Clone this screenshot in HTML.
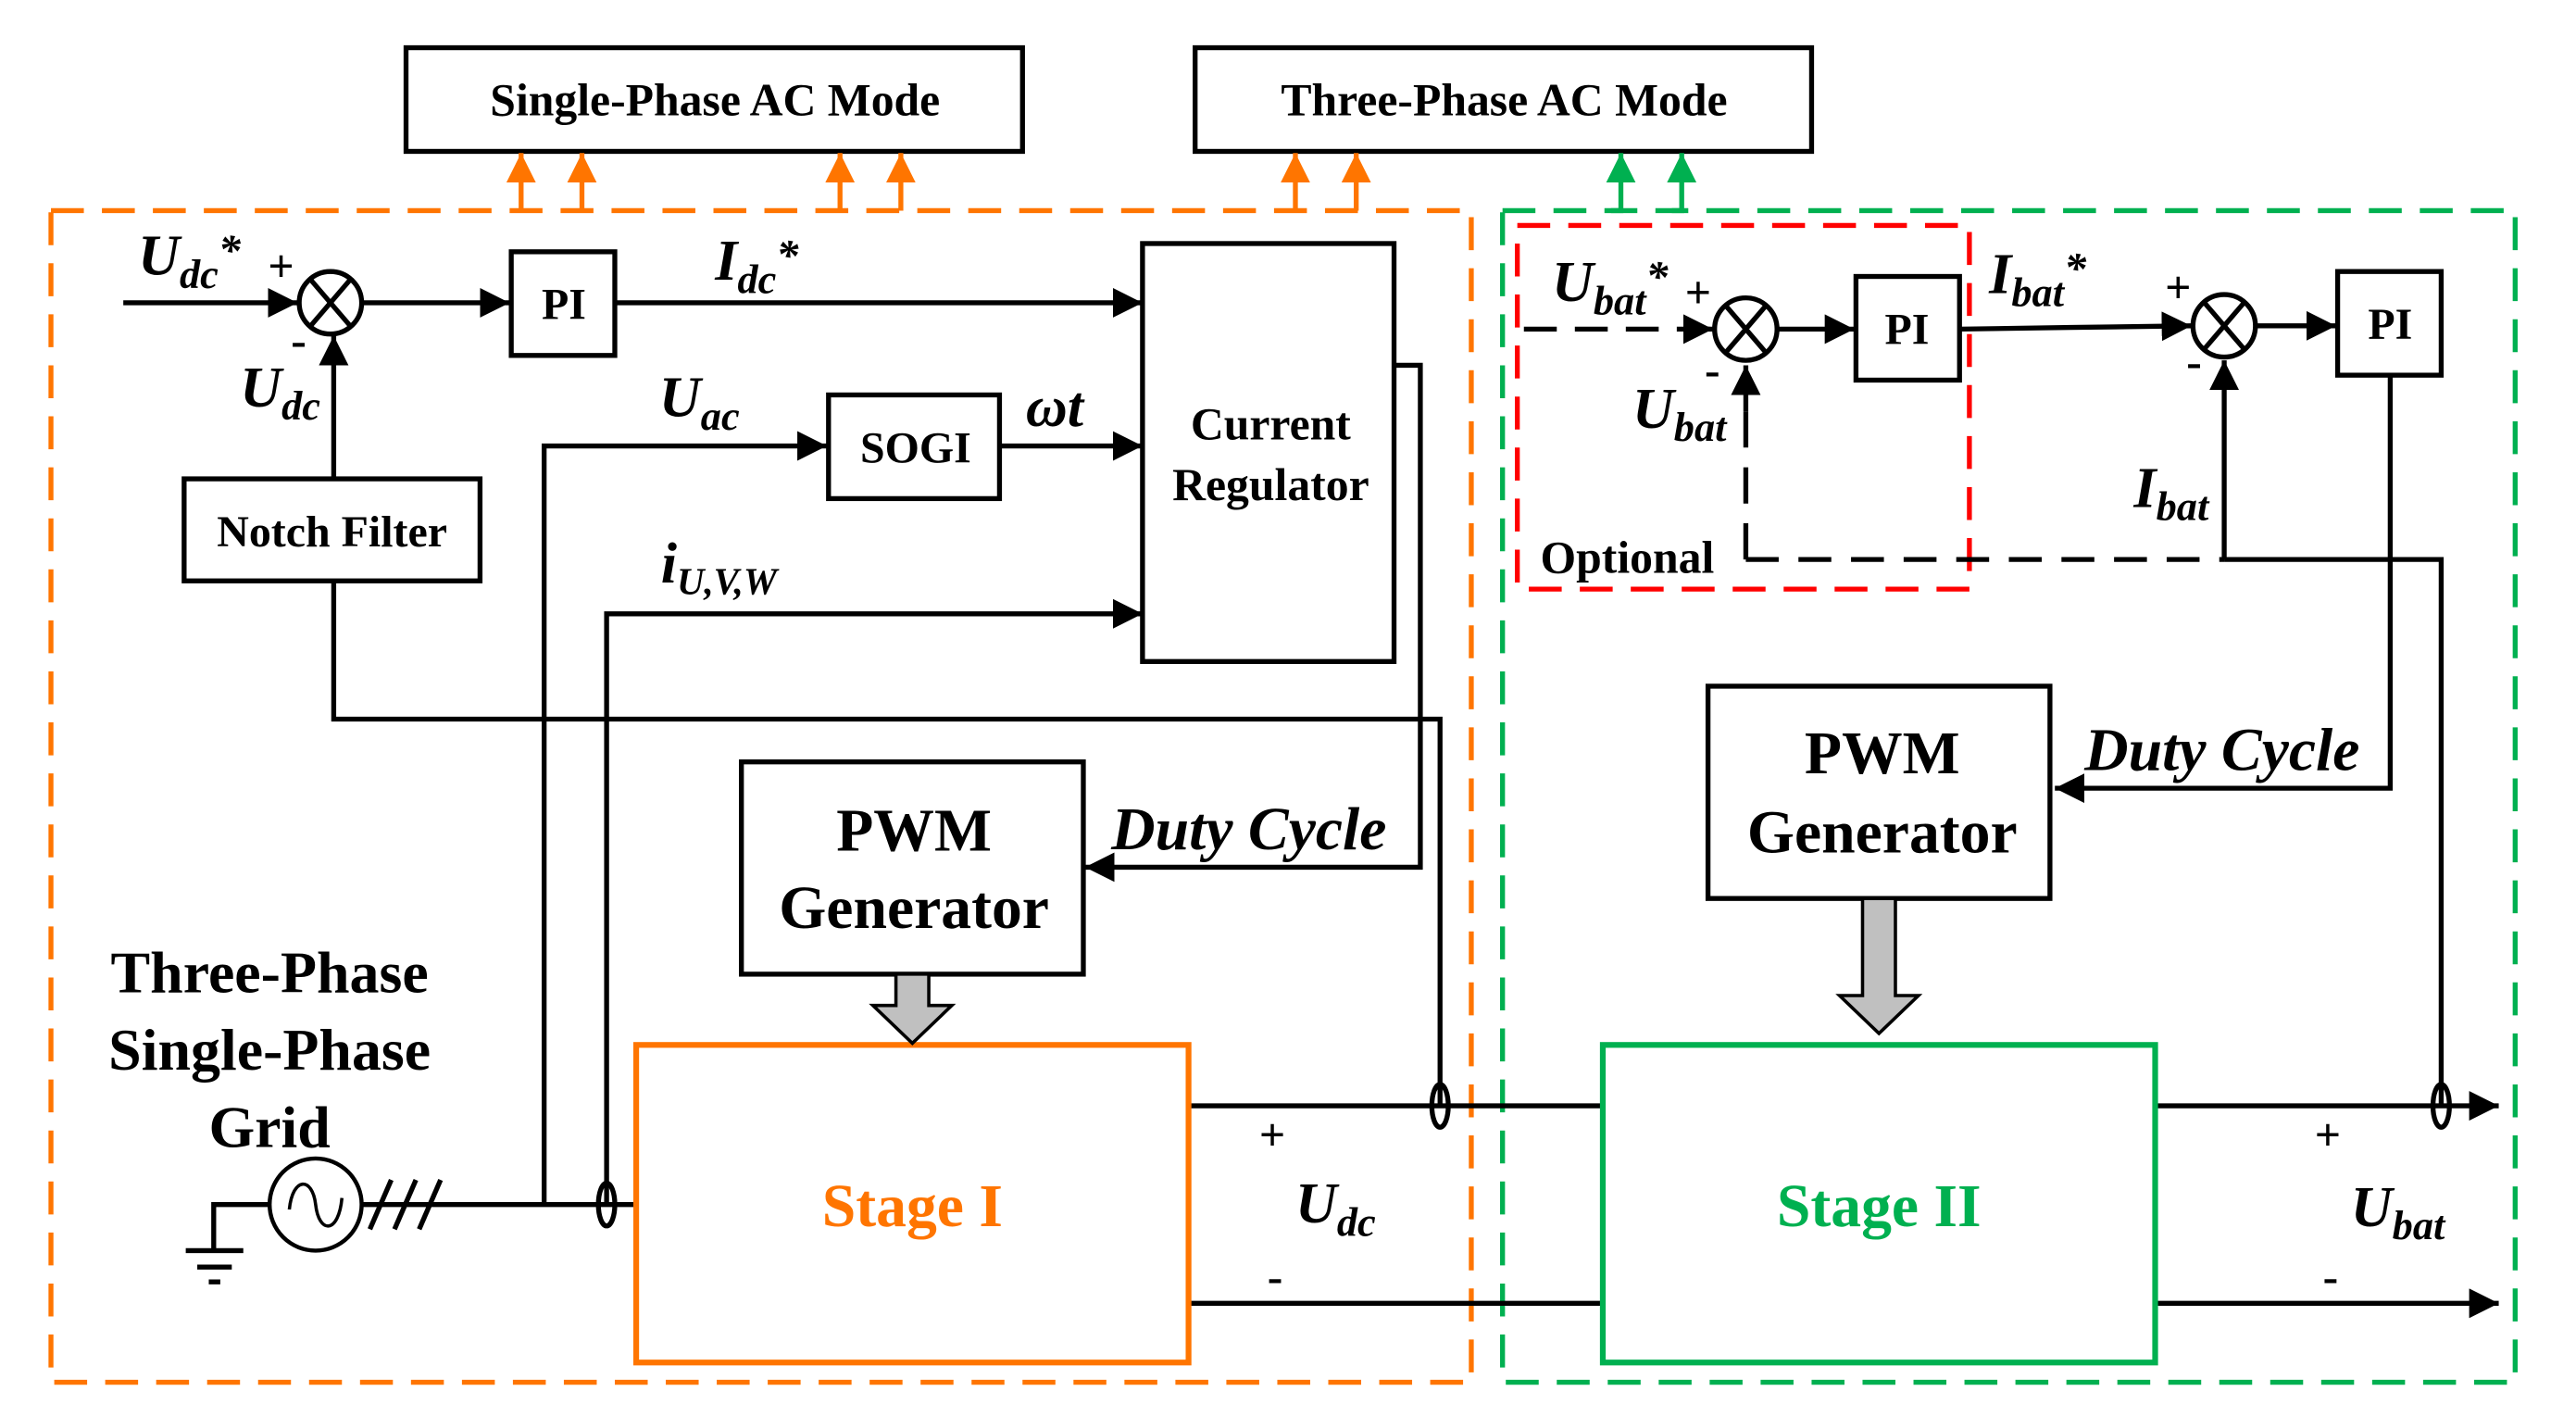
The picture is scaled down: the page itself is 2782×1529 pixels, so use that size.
<!DOCTYPE html>
<html><head><meta charset="utf-8"><style>
html,body{margin:0;padding:0;background:#fff;width:2782px;height:1529px;overflow:hidden}
svg{display:block}
svg text{font-family:'Liberation Serif','Times New Roman',serif;font-weight:bold;fill:#000}
.i{font-style:italic}
</style></head><body>
<svg width="2782" height="1529" viewBox="0 0 1567 860.5" preserveAspectRatio="none" xmlns="http://www.w3.org/2000/svg" font-family="Liberation Serif, Times New Roman, serif">
<defs>
<marker id="ab" viewBox="0 0 10 10" refX="10" refY="5" markerWidth="18" markerHeight="18" markerUnits="userSpaceOnUse" orient="auto"><path d="M0,0L10,5L0,10z" fill="#000"/></marker>
<marker id="ao" viewBox="0 0 10 10" refX="10" refY="5" markerWidth="18" markerHeight="18" markerUnits="userSpaceOnUse" orient="auto"><path d="M0,0L10,5L0,10z" fill="#ff7500"/></marker>
<marker id="ag" viewBox="0 0 10 10" refX="10" refY="5" markerWidth="18" markerHeight="18" markerUnits="userSpaceOnUse" orient="auto"><path d="M0,0L10,5L0,10z" fill="#00b050"/></marker>
</defs>
<g fill="none" stroke-width="3">
<rect x="247" y="29" width="375" height="63" stroke="#000"/>
<rect x="727" y="29" width="375" height="63" stroke="#000"/>
<rect x="31" y="128" width="864" height="712" stroke="#ff7500" stroke-dasharray="20,11"/>
<rect x="914" y="128" width="616" height="712" stroke="#00b050" stroke-dasharray="20,11"/>
<rect x="923" y="137" width="275" height="221" stroke="#ff0000" stroke-dasharray="20,11"/>
<g stroke="#ff7500"><line x1="317" y1="128" x2="317" y2="93" marker-end="url(#ao)"/><line x1="354" y1="128" x2="354" y2="93" marker-end="url(#ao)"/><line x1="511" y1="128" x2="511" y2="93" marker-end="url(#ao)"/><line x1="548" y1="128" x2="548" y2="93" marker-end="url(#ao)"/><line x1="788" y1="128" x2="788" y2="93" marker-end="url(#ao)"/><line x1="825" y1="128" x2="825" y2="93" marker-end="url(#ao)"/></g>
<g stroke="#00b050"><polyline points="980,128 986,128 986,93" marker-end="url(#ag)"/><polyline points="1017,128 1023,128 1023,93" marker-end="url(#ag)"/></g>
<g stroke="#000">
<line x1="75" y1="184" x2="181" y2="184" marker-end="url(#ab)"/>
<circle cx="201" cy="184" r="19"/>
<line x1="189" y1="170" x2="213" y2="198"/><line x1="213" y1="170" x2="189" y2="198"/>
<line x1="220" y1="184" x2="310" y2="184" marker-end="url(#ab)"/>
<rect x="311" y="153" width="63" height="63"/>
<line x1="374" y1="184" x2="695" y2="184" marker-end="url(#ab)"/>
<rect x="695" y="148" width="153" height="254"/>
<line x1="203" y1="291" x2="203" y2="204" marker-end="url(#ab)"/>
<rect x="112" y="291" width="180" height="62"/>
<polyline points="203,353 203,437 876,437 876,672"/>
<polyline points="331,732 331,271 503,271" marker-end="url(#ab)"/>
<rect x="504" y="240" width="104" height="63"/>
<line x1="608" y1="271" x2="695" y2="271" marker-end="url(#ab)"/>
<polyline points="369,732 369,373 695,373" marker-end="url(#ab)"/>
<polyline points="848,222 864,222 864,527 660,527" marker-end="url(#ab)"/>
<rect x="451" y="463" width="208" height="129"/>
<circle cx="192" cy="732" r="28" stroke-width="2.5"/>
<path d="M176,735 C178,715 190,715 192,732 C194,750 206,750 208,728" stroke-width="2"/>
<polyline points="164,732 130,732 130,760"/>
<line x1="113" y1="760" x2="148" y2="760"/><line x1="120" y1="770" x2="141" y2="770"/><line x1="127" y1="779" x2="134" y2="779"/>
<line x1="220" y1="732" x2="387" y2="732"/>
<line x1="225" y1="747" x2="238" y2="717"/><line x1="240" y1="747" x2="253" y2="717"/><line x1="255" y1="747" x2="268" y2="717"/>
<ellipse cx="369" cy="732" rx="5" ry="13"/>
<line x1="723" y1="672" x2="975" y2="672"/>
<line x1="723" y1="792" x2="975" y2="792"/>
<ellipse cx="876" cy="672" rx="5" ry="13"/>
<line x1="1311" y1="672" x2="1520" y2="672" marker-end="url(#ab)"/>
<line x1="1311" y1="792" x2="1520" y2="792" marker-end="url(#ab)"/>
<ellipse cx="1485" cy="672" rx="5" ry="13"/>
<line x1="927" y1="200" x2="1042" y2="200" stroke-dasharray="20,11" marker-end="url(#ab)"/>
<line x1="1028" y1="200" x2="1042" y2="200"/>
<circle cx="1062" cy="200" r="19"/>
<line x1="1050" y1="186" x2="1074" y2="214"/><line x1="1074" y1="186" x2="1050" y2="214"/>
<polyline points="1062,340 1062,222" stroke-dasharray="22,12" marker-end="url(#ab)"/>
<line x1="1062" y1="235" x2="1062" y2="250"/>
<line x1="1081" y1="200" x2="1128" y2="200" marker-end="url(#ab)"/>
<rect x="1129" y="168" width="63" height="63"/>
<polyline points="1192,200 1260,199 1333,198" marker-end="url(#ab)"/>
<circle cx="1353" cy="198" r="19"/>
<line x1="1341" y1="184" x2="1365" y2="212"/><line x1="1365" y1="184" x2="1341" y2="212"/>
<line x1="1372" y1="198" x2="1421" y2="198" marker-end="url(#ab)"/>
<rect x="1422" y="165" width="63" height="63"/>
<line x1="1062" y1="340" x2="1353" y2="340" stroke-dasharray="20,12"/>
<line x1="1353" y1="340" x2="1353" y2="219" marker-end="url(#ab)"/>
<polyline points="1353,340 1485,340 1485,672"/>
<polyline points="1454,228 1454,479 1250,479" marker-end="url(#ab)"/>
<rect x="1039" y="417" width="208" height="129"/>
</g>
<rect x="387" y="635" width="336" height="193" stroke="#ff7500" stroke-width="3.5"/>
<rect x="975" y="635" width="336" height="193" stroke="#00b050" stroke-width="3.5"/>
</g>
<path d="M545,592 L565,592 L565,611 L579,611 L555,634 L531,611 L545,611 Z" fill="#c0c0c0" stroke="#000" stroke-width="2"/>
<path d="M1133,546 L1153,546 L1153,605 L1167,605 L1143,628 L1119,605 L1133,605 Z" fill="#c0c0c0" stroke="#000" stroke-width="2"/>
<g text-anchor="middle">
<text x="435" y="70" font-size="28">Single-Phase AC Mode</text>
<text x="915" y="70" font-size="28">Three-Phase AC Mode</text>
<text x="343" y="194" font-size="27">PI</text>
<text x="1160" y="209" font-size="27">PI</text>
<text x="1454" y="206" font-size="27">PI</text>
<text x="773" y="267" font-size="28">Current</text>
<text x="773" y="304" font-size="28">Regulator</text>
<text x="202" y="332" font-size="27">Notch Filter</text>
<text x="557" y="281" font-size="27">SOGI</text>
<text x="556" y="517" font-size="37">PWM</text>
<text x="556" y="564" font-size="37">Generator</text>
<text x="1145" y="470" font-size="37">PWM</text>
<text x="1145" y="518" font-size="37">Generator</text>
<text x="164" y="603" font-size="36">Three-Phase</text>
<text x="164" y="650" font-size="36">Single-Phase</text>
<text x="164" y="697" font-size="36">Grid</text>
<text x="555" y="745" font-size="37" style="fill:#ff7500">Stage I</text>
<text x="1143" y="745" font-size="37" style="fill:#00b050">Stage II</text>
</g>
<text x="937" y="348" font-size="28">Optional</text>
<text x="676" y="516" font-size="37" class="i">Duty Cycle</text>
<text x="1268" y="468" font-size="37" class="i">Duty Cycle</text>
<g font-size="28">
<text x="163" y="171">+</text><text x="177" y="216">-</text>
<text x="1025" y="187">+</text><text x="1037" y="234">-</text>
<text x="1317" y="184">+</text><text x="1330" y="229">-</text>
<text x="766" y="699">+</text><text x="771" y="785">-</text>
<text x="1408" y="699">+</text><text x="1413" y="785">-</text>
</g>
<g>
<text x="84" y="167" font-size="35" class="i">U<tspan font-size="25" dy="8">dc</tspan><tspan dy="-14" font-size="27">*</tspan></text>
<text x="435" y="170" font-size="35" class="i">I<tspan font-size="25" dy="8">dc</tspan><tspan dy="-14" font-size="27">*</tspan></text>
<text x="146" y="247" font-size="35" class="i">U<tspan font-size="25" dy="8">dc</tspan></text>
<text x="401" y="253" font-size="35" class="i">U<tspan font-size="25" dy="8">ac</tspan></text>
<text x="624" y="259" font-size="35" class="i">ωt</text>
<text x="402" y="354" font-size="35" class="i">i<tspan font-size="23" dy="7">U,V,W</tspan></text>
<text x="788" y="743" font-size="35" class="i">U<tspan font-size="25" dy="8">dc</tspan></text>
<text x="1430" y="745" font-size="35" class="i">U<tspan font-size="25" dy="8">bat</tspan></text>
<text x="944" y="183" font-size="35" class="i">U<tspan font-size="25" dy="8">bat</tspan><tspan dy="-14" font-size="27">*</tspan></text>
<text x="993" y="260" font-size="35" class="i">U<tspan font-size="25" dy="8">bat</tspan></text>
<text x="1210" y="178" font-size="35" class="i">I<tspan font-size="25" dy="8">bat</tspan><tspan dy="-14" font-size="27">*</tspan></text>
<text x="1298" y="308" font-size="35" class="i">I<tspan font-size="25" dy="8">bat</tspan></text>
</g>
</svg>
</body></html>
